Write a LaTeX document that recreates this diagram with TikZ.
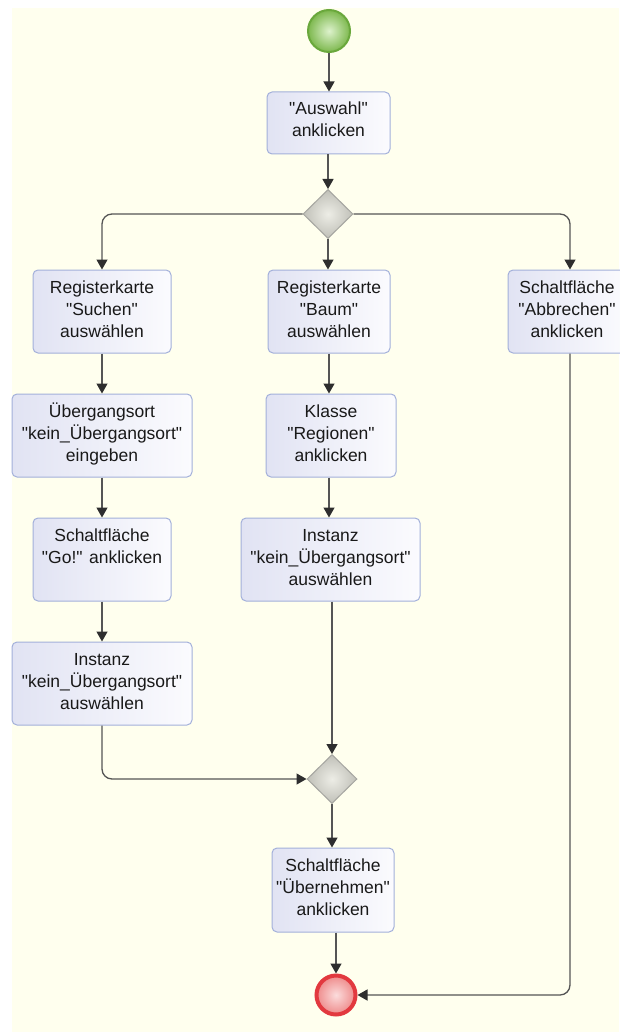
\documentclass[tikz,border=0pt]{standalone}
\usepackage{fontspec}
\setmainfont{Liberation Sans}
\usetikzlibrary{arrows.meta,shapes.geometric,calc}

\definecolor{bgyellow}{HTML}{FFFFEE}
\definecolor{boxleft}{HTML}{E1E3F3}
\definecolor{boxright}{HTML}{FBFBFE}
\definecolor{boxline}{HTML}{A3B0DA}
\definecolor{flowline}{HTML}{555555}
\definecolor{tipcol}{HTML}{2E2E2E}
\definecolor{gwlight}{HTML}{EDEDE6}
\definecolor{gwdark}{HTML}{C0C0B8}
\definecolor{gwline}{HTML}{A5A5A0}
\definecolor{startin}{HTML}{DDF2CC}
\definecolor{startout}{HTML}{7DB84E}
\definecolor{startline}{HTML}{6AA83C}
\definecolor{endin}{HTML}{FBDCDC}
\definecolor{endout}{HTML}{EE8A8A}
\definecolor{endline}{HTML}{E2393F}

% straight double quote
\newcommand\dq{\textquotedbl}
% text block of an action: width, height, lines (top aligned)
\newcommand\acttext[3]{\parbox[c][#2pt][t]{#1pt}{\centering
  \fontsize{17.5}{22}\selectfont\vspace*{7pt}\rule{0pt}{16pt}#3\par}}

\tikzset{
  act/.style={draw=boxline, line width=1pt, rounded corners=5pt,
    left color=boxleft, right color=boxright, inner sep=0pt, text=black!90},
  gateway/.style={diamond, draw=gwline, line width=1pt, inner sep=0pt,
    minimum width=50pt, minimum height=49pt, inner color=gwlight, outer color=gwdark},
  startnode/.style={circle, draw=startline, line width=2pt, minimum size=42pt,
    inner sep=0pt, inner color=startin, outer color=startout},
  endnode/.style={circle, draw=endline, line width=4pt, minimum size=39pt,
    inner sep=0pt, inner color=endin, outer color=endout},
  flow/.style={draw=flowline, line width=1.3pt, rounded corners=10pt,
    -{Triangle[width=11pt,length=10pt,color=tipcol]}}
}

\begin{document}
\begin{tikzpicture}[x=1pt,y=-1pt]
\useasboundingbox (0,0) rectangle (619,1032);
\fill[white] (0,0) rectangle (619,1032);
\fill[bgyellow] (12,8) rectangle (619,1032);

% initial and final states
\node[startnode] (start) at (329,31) {};
\node[endnode] (end) at (336,995) {};

% actions
\node[act] (a1) at (328.5,123) {\acttext{123}{62}{\dq Auswahl\dq\\anklicken}};
\node[act] (l1) at (102,311.5) {\acttext{138}{83}{Registerkarte\\\dq Suchen\dq\\auswählen}};
\node[act] (l2) at (102,435.5) {\acttext{180}{83}{Übergangsort\\\dq kein\_Übergangsort\dq\\eingeben}};
\node[act] (l3) at (102,559.5) {\acttext{138}{83}{Schaltfläche\\\dq Go!\dq{} anklicken}};
\node[act] (l4) at (102,683.5) {\acttext{180}{83}{Instanz\\\dq kein\_Übergangsort\dq\\auswählen}};
\node[act] (m1) at (329,311.5) {\acttext{122}{83}{Registerkarte\\\dq Baum\dq\\auswählen}};
\node[act] (m2) at (331,435.5) {\acttext{130}{83}{Klasse\\\dq Regionen\dq\\anklicken}};
\node[act] (m3) at (330.5,559.5) {\acttext{179}{83}{Instanz\\\dq kein\_Übergangsort\dq\\auswählen}};
\node[act] (r1) at (567,311.5) {\acttext{118}{83}{Schaltfläche\\\dq Abbrechen\dq\\anklicken}};
\node[act] (b1) at (333,890) {\acttext{122}{84}{Schaltfläche\\\dq Übernehmen\dq\\anklicken}};

% decision and merge
\node[gateway] (d1) at (328,214) {};
\node[gateway] (d2) at (332,779) {};

% control flows
\draw[flow] (start.south) -- (start.south |- a1.north);
\draw[flow] (d1.north |- a1.south) -- (d1.north);
\draw[flow] (d1.west) -| (l1.north);
\draw[flow] (d1.south) -- (d1.south |- m1.north);
\draw[flow] (d1.east) -| ($(r1.north)+(3,0)$);
\draw[flow] (l1.south) -- (l2.north);
\draw[flow] (l2.south) -- (l3.north);
\draw[flow] (l3.south) -- (l4.north);
\draw[flow] (m1.south) -- (m1.south |- m2.north);
\draw[flow] (m2.south -| m1.south) -- (m1.south |- m3.north);
\draw[flow] (m3.south -| d2.north) -- (d2.north);
\draw[flow] (l4.south) |- (d2.west);
\draw[flow] (d2.south) -- (d2.south |- b1.north);
\draw[flow] (b1.south -| end.north) -- (end.north);
\draw[flow] ($(r1.south)+(3,0)$) |- (end.east);
\end{tikzpicture}
\end{document}
